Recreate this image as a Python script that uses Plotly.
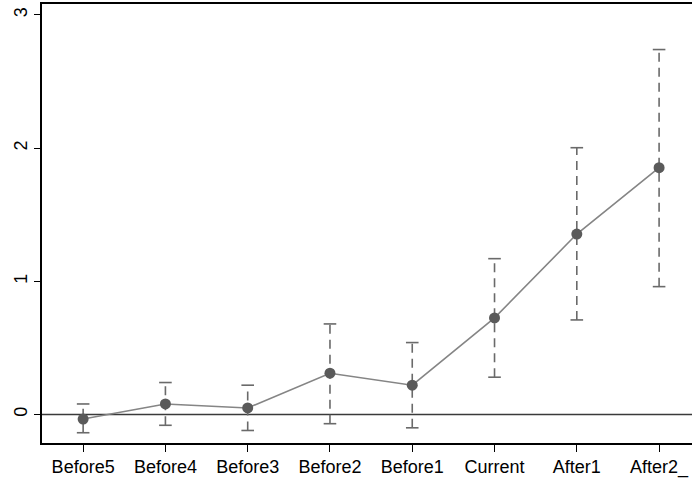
import plotly.graph_objects as go

categories = ["Before5", "Before4", "Before3", "Before2", "Before1", "Current", "After1", "After2_"]
coef = [-0.034, 0.079, 0.049, 0.31, 0.22, 0.725, 1.355, 1.853]
ci_low = [-0.137, -0.081, -0.12, -0.069, -0.10, 0.28, 0.71, 0.96]
ci_high = [0.079, 0.24, 0.22, 0.68, 0.54, 1.17, 2.003, 2.74]
y_ticks = [0, 1, 2, 3]

xi = list(range(len(categories)))

fig = go.Figure()

# zero reference line
fig.add_hline(y=0, line=dict(color="#3a3a3a", width=1.5), layer="below")

# dashed CI lines
ex, ey = [], []
for i, lo, hi in zip(xi, ci_low, ci_high):
    ex += [i, i, None]
    ey += [lo, hi, None]
fig.add_trace(go.Scatter(x=ex, y=ey, mode="lines",
                         line=dict(color="#6a6a6a", width=1.6, dash="9px,6px"),
                         hoverinfo="skip", showlegend=False))
# caps
fig.add_trace(go.Scatter(x=xi + xi, y=ci_low + ci_high, mode="markers",
                         marker=dict(symbol="line-ew", size=9,
                                     line=dict(color="#6a6a6a", width=1.6)),
                         hoverinfo="skip", showlegend=False))
# point estimates
fig.add_trace(go.Scatter(x=xi, y=coef, mode="lines+markers",
                         line=dict(color="#858585", width=1.6),
                         marker=dict(size=11, color="#5a5a5a"),
                         showlegend=False))

fig.update_layout(
    width=692, height=483,
    margin=dict(l=42, r=0, t=4, b=40),
    paper_bgcolor="white", plot_bgcolor="white",
    font=dict(family="Liberation Sans, Arial, sans-serif", size=18, color="black"),
    xaxis=dict(range=[-0.5, 7.4], tickmode="array", tickvals=xi, ticktext=categories,
               showgrid=False, zeroline=False, showline=True, mirror=True,
               linecolor="black", linewidth=1.5, automargin=False,
               ticks="outside", ticklen=7, tickwidth=1.2, tickcolor="black",
               tickfont=dict(size=18)),
    yaxis=dict(range=[-0.214, 3.082], tickmode="array", tickvals=y_ticks,
               showgrid=False, zeroline=False, showline=True, automargin=False,
               linecolor="black", linewidth=1.5, tickangle=-90,
               ticks="outside", ticklen=6, tickwidth=1.2, tickcolor="black",
               tickfont=dict(size=18)),
)

fig.write_html("out.html", config={"displayModeBar": False},
               post_script="document.body.style.margin='0';document.body.style.overflow='hidden';")
